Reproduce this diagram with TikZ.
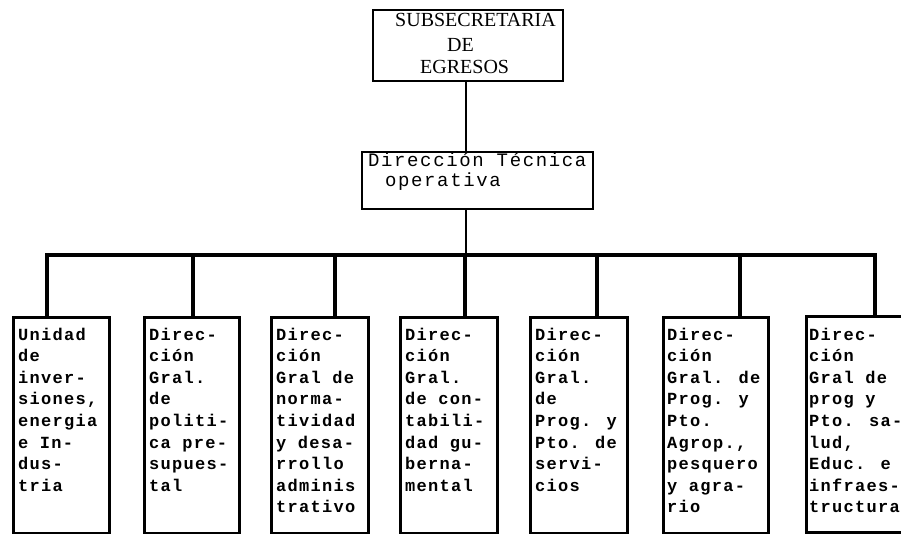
\documentclass[tikz,border=0pt]{standalone}
\usepackage{fontspec}
\newfontfamily\monoA[LetterSpace=7.5]{Liberation Mono}
\newfontfamily\monoB[LetterSpace=8.5]{Liberation Mono}
\newfontfamily\serifA{Liberation Serif}
\newcommand{\btext}[1]{\parbox[t]{110pt}{\monoA\bfseries\fontsize{17}{21.6}\selectfont #1}}
\begin{document}
\begin{tikzpicture}[x=1pt,y=-1pt,
  topbox/.style={draw, line width=1.8pt, inner sep=0pt, anchor=north west},
  unitbox/.style={draw, line width=2.6pt, inner sep=0pt, anchor=north west, minimum height=216pt},
  utext/.style={inner sep=0pt, anchor=base west},
  ttext/.style={inner sep=0pt, anchor=base west},
  conn/.style={line width=2.6pt},
  bus/.style={line width=4.5pt},
  drop/.style={line width=4.5pt}]
\useasboundingbox (0,0) rectangle (901,534);
\clip (0,0) rectangle (901,534);
\fill[white] (0,0) rectangle (901,534);

% top box
\node[topbox, minimum width=190pt, minimum height=71pt] (sub) at (372,9) {};
\node[ttext, font=\serifA\fontsize{20}{24}\selectfont] (s1) at (395,27) {SUBSECRETARIA};
\node[ttext, font=\serifA\fontsize{20}{24}\selectfont] (s2) at (447,52) {DE};
\node[ttext, font=\serifA\fontsize{20}{24}\selectfont] (s3) at (420,74) {EGRESOS};

% second box
\node[topbox, minimum width=231pt, minimum height=57pt] (dto) at (361,151) {};
\node[ttext, font=\monoB\fontsize{19}{20}\selectfont] (d1) at (368,167) {Dirección Técnica};
\node[ttext, font=\monoB\fontsize{19}{20}\selectfont] (d2) at (385,187) {operativa};

\coordinate (cx) at (466,255);
\draw[conn] (sub.south -| cx) -- (dto.north -| cx);
\draw[conn] (dto.south -| cx) -- (cx);

% bottom boxes
\node[unitbox, minimum width=96pt] (b1) at (12,316) {};
\node[unitbox, minimum width=95pt] (b2) at (143,316) {};
\node[unitbox, minimum width=97pt] (b3) at (270,316) {};
\node[unitbox, minimum width=97pt] (b4) at (399,316) {};
\node[unitbox, minimum width=97pt] (b5) at (529,316) {};
\node[unitbox, minimum width=105pt] (b6) at (662,316) {};
\node[unitbox, minimum width=105pt] (b7) at (805,315) {};

\coordinate (p1) at (47,255);
\coordinate (p2) at (193,255);
\coordinate (p3) at (335,255);
\coordinate (p4) at (465,255);
\coordinate (p5) at (597,255);
\coordinate (p6) at (740,255);
\coordinate (p7) at (875,255);

\draw[bus, line cap=rect] (p1) -- (p7);
\draw[drop] (p1) -- (p1 |- b1.north);
\draw[drop] (p2) -- (p2 |- b2.north);
\draw[drop] (p3) -- (p3 |- b3.north);
\draw[drop] (p4) -- (p4 |- b4.north);
\draw[drop] (p5) -- (p5 |- b5.north);
\draw[drop] (p6) -- (p6 |- b6.north);
\draw[drop] (p7) -- (p7 |- b7.north);

\node[utext] (t1) at (18,340) {\btext{Unidad\\de\\inver-\\siones,\\energia\\e In-\\dus-\\tria}};
\node[utext] (t2) at (149,340) {\btext{Direc-\\ción\\Gral.\\de\\politi-\\ca pre-\\supues-\\tal}};
\node[utext] (t3) at (276,340) {\btext{Direc-\\ción\\Gral de\\norma-\\tividad\\y desa-\\rrollo\\adminis\\trativo}};
\node[utext] (t4) at (405,340) {\btext{Direc-\\ción\\Gral.\\de con-\\tabili-\\dad gu-\\berna-\\mental}};
\node[utext] (t5) at (535,340) {\btext{Direc-\\ción\\Gral.\\de\\Prog. y\\Pto. de\\servi-\\cios}};
\node[utext] (t6) at (667,340) {\btext{Direc-\\ción\\Gral. de\\Prog. y\\Pto.\\Agrop.,\\pesquero\\y agra-\\rio}};
\node[utext] (t7) at (809,340) {\btext{Direc-\\ción\\Gral de\\prog y\\Pto. sa-\\lud,\\Educ. e\\infraes-\\tructura}};
\end{tikzpicture}
\end{document}
